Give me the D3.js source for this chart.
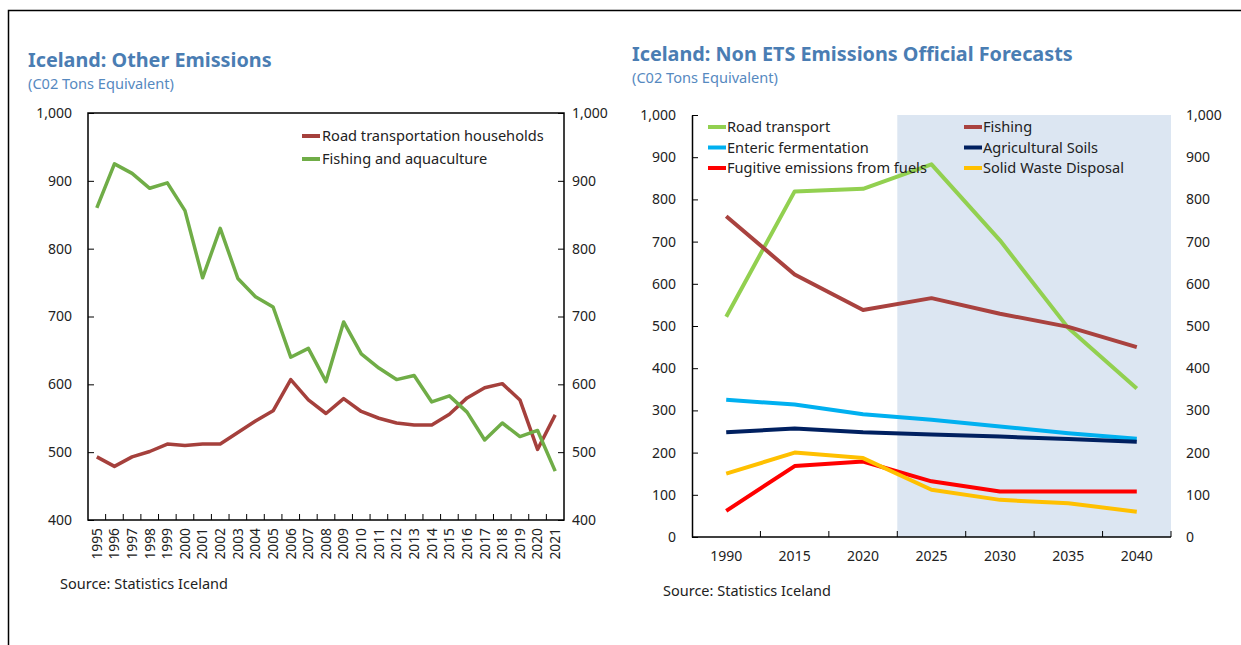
<!DOCTYPE html>
<html>
<head>
<meta charset="utf-8">
<script src="https://cdn.jsdelivr.net/npm/d3@7"></script>
<style>
  body { margin: 0; background: #fff; }
  svg { display: block; font-family: "Noto Sans", sans-serif; }
  .tick text { fill: #222; }
</style>
</head>
<body>
<script>
// left chart data
const yearsLeft = ['1995','1996','1997','1998','1999','2000','2001','2002','2003','2004','2005','2006','2007','2008','2009','2010','2011','2012','2013','2014','2015','2016','2017','2018','2019','2020','2021'];
const roadHouseholds = [493,479,493,501,512,510,512,512,529,546,561,607,577,557,579,560,550,543,540,540,556,580,595,601,577,504,555];
const fishingAqua = [860,925,911,889,897,856,757,830,756,729,714,640,653,604,692,645,624,607,613,574,583,559,518,543,523,532,472];
const leftTicks = [400,500,600,700,800,900,1000];

// right chart data
const yearsRight = ['1990','2015','2020','2025','2030','2035','2040'];
const roadTransport = [522,819,825,883,703,495,352];
const fishing = [760,622,538,566,529,498,450];
const enteric = [325,314,291,278,262,246,233];
const agriSoils = [248,257,248,243,238,232,226];
const fugitive = [62,168,179,132,108,108,108];
const solidWaste = [150,200,187,112,88,80,60];
const rightTicks = [0,100,200,300,400,500,600,700,800,900,1000];
const forecastStart = '2025';

const leftSeries = [
  { name: 'Road transportation households', values: roadHouseholds, color: '#a5403c' },
  { name: 'Fishing and aquaculture', values: fishingAqua, color: '#70ad47' },
];
const rightSeries = [
  { name: 'Road transport', values: roadTransport, color: '#92d050' },
  { name: 'Fishing', values: fishing, color: '#a9423f' },
  { name: 'Enteric fermentation', values: enteric, color: '#00b0f0' },
  { name: 'Agricultural Soils', values: agriSoils, color: '#002060' },
  { name: 'Fugitive emissions from fuels', values: fugitive, color: '#ff0000' },
  { name: 'Solid Waste Disposal', values: solidWaste, color: '#ffc000' },
];

const titleColor = '#4a7db3';
const fmt = d3.format(',');

const svg = d3.select('body').append('svg')
  .attr('width', 1241)
  .attr('height', 645);

// outer frame (runs off the page right and bottom)
svg.append('path')
  .attr('d', 'M8.5,645 V10.5 H1241')
  .attr('fill', 'none')
  .attr('stroke', '#000')
  .attr('stroke-width', 1.5);

const addTitle = (x, y1, y2, title) => {
  svg.append('text').attr('x', x).attr('y', y1)
    .attr('fill', titleColor).attr('font-weight', 'bold').attr('font-size', 19.8)
    .text(title);
  svg.append('text').attr('x', x).attr('y', y2)
    .attr('fill', '#5689bf').attr('font-size', 14.6)
    .text('(C02 Tons Equivalent)');
};

// ---------- left chart ----------
const L = { left: 88, right: 564, top: 113, bottom: 520 };
addTitle(28, 67, 89, 'Iceland: Other Emissions');

const xL = d3.scaleBand().domain(yearsLeft).range([L.left, L.right]);
const yL = d3.scaleLinear().domain([400, 1000]).range([L.bottom, L.top]);

const gL = svg.append('g');

gL.append('g')
  .attr('transform', `translate(${L.left},0)`)
  .call(d3.axisLeft(yL).tickValues(leftTicks).tickFormat(fmt).tickSizeInner(-6).tickSizeOuter(0).tickPadding(16))
  .call(g => g.select('.domain').remove())
  .call(g => g.selectAll('text').attr('font-size', 14).attr('font-family', 'Noto Sans'));

gL.append('g')
  .attr('transform', `translate(${L.right},0)`)
  .call(d3.axisRight(yL).tickValues(leftTicks).tickFormat(fmt).tickSizeInner(-6).tickSizeOuter(0).tickPadding(8))
  .call(g => g.select('.domain').remove())
  .call(g => g.selectAll('text').attr('font-size', 14).attr('font-family', 'Noto Sans'));

// category boundary ticks
gL.append('g').selectAll('line')
  .data(yearsLeft.slice(1))
  .enter().append('line')
  .attr('x1', d => xL(d)).attr('x2', d => xL(d))
  .attr('y1', L.bottom).attr('y2', L.bottom - 6)
  .attr('stroke', '#000');

gL.append('g').selectAll('text')
  .data(yearsLeft)
  .enter().append('text')
  .attr('transform', d => `translate(${xL(d) + xL.bandwidth() / 2},528) rotate(-90)`)
  .attr('text-anchor', 'end')
  .attr('dy', '0.35em')
  .attr('font-size', 13.8)
  .attr('fill', '#222')
  .text(d => d);

const lineL = d3.line()
  .x((d, i) => xL(yearsLeft[i]) + xL.bandwidth() / 2)
  .y(d => yL(d));

gL.append('g').selectAll('path')
  .data(leftSeries)
  .enter().append('path')
  .attr('d', d => lineL(d.values))
  .attr('fill', 'none')
  .attr('stroke', d => d.color)
  .attr('stroke-width', 3.5)
  .attr('stroke-linejoin', 'round');

gL.append('rect')
  .attr('x', L.left).attr('y', L.top)
  .attr('width', L.right - L.left).attr('height', L.bottom - L.top)
  .attr('fill', 'none').attr('stroke', '#000').attr('stroke-width', 1.5);

// legend
const legL = gL.append('g').selectAll('g')
  .data(leftSeries)
  .enter().append('g')
  .attr('transform', (d, i) => `translate(302,${136 + i * 23})`);
legL.append('line').attr('x1', 0).attr('x2', 18)
  .attr('stroke', d => d.color).attr('stroke-width', 4);
legL.append('text').attr('x', 20).attr('dy', '0.35em')
  .attr('font-size', 14.6).attr('fill', '#222')
  .text(d => d.name);

svg.append('text').attr('x', 60).attr('y', 589)
  .attr('font-size', 14.5).attr('fill', '#222')
  .text('Source: Statistics Iceland');

// ---------- right chart ----------
const R = { left: 692, right: 1171, top: 115, bottom: 537 };
addTitle(632, 61, 83, 'Iceland: Non ETS Emissions Official Forecasts');

const xR = d3.scaleBand().domain(yearsRight).range([R.left, R.right]);
const yR = d3.scaleLinear().domain([0, 1000]).range([R.bottom, R.top]);

const gR = svg.append('g');

// forecast shading
gR.append('rect')
  .attr('x', xR(forecastStart)).attr('y', R.top)
  .attr('width', R.right - xR(forecastStart)).attr('height', R.bottom - R.top)
  .attr('fill', '#dce6f2');

gR.append('g')
  .attr('transform', `translate(${R.left},0)`)
  .call(d3.axisLeft(yR).tickValues(rightTicks).tickFormat(fmt).tickSizeInner(-6).tickSizeOuter(0).tickPadding(16))
  .call(g => g.select('.domain').attr('stroke-width', 1.5))
  .call(g => g.selectAll('text').attr('font-size', 14).attr('font-family', 'Noto Sans'));

gR.append('g')
  .attr('transform', `translate(${R.right},0)`)
  .call(d3.axisRight(yR).tickValues(rightTicks).tickFormat(fmt).tickSize(0).tickPadding(15))
  .call(g => g.select('.domain').remove())
  .call(g => g.selectAll('text').attr('font-size', 14).attr('font-family', 'Noto Sans'));

gR.append('line')
  .attr('x1', R.left).attr('x2', R.right)
  .attr('y1', R.bottom).attr('y2', R.bottom)
  .attr('stroke', '#000').attr('stroke-width', 1.5);

gR.append('g').selectAll('line')
  .data(yearsRight.slice(1).concat(['end']))
  .enter().append('line')
  .attr('x1', d => d === 'end' ? R.right : xR(d))
  .attr('x2', d => d === 'end' ? R.right : xR(d))
  .attr('y1', R.bottom).attr('y2', R.bottom - 6)
  .attr('stroke', '#000');

gR.append('g').selectAll('text')
  .data(yearsRight)
  .enter().append('text')
  .attr('x', d => xR(d) + xR.bandwidth() / 2)
  .attr('y', 556)
  .attr('dy', '0.35em')
  .attr('text-anchor', 'middle')
  .attr('font-size', 14)
  .attr('fill', '#222')
  .text(d => d);

const lineR = d3.line()
  .x((d, i) => xR(yearsRight[i]) + xR.bandwidth() / 2)
  .y(d => yR(d));

gR.append('g').selectAll('path')
  .data(rightSeries)
  .enter().append('path')
  .attr('d', d => lineR(d.values))
  .attr('fill', 'none')
  .attr('stroke', d => d.color)
  .attr('stroke-width', 4)
  .attr('stroke-linejoin', 'round');

// legend, two columns
const legR = gR.append('g').selectAll('g')
  .data(rightSeries)
  .enter().append('g')
  .attr('transform', (d, i) => `translate(${i % 2 ? 964 : 708},${127 + Math.floor(i / 2) * 20.5})`);
legR.append('line').attr('x1', 0).attr('x2', 18)
  .attr('stroke', d => d.color).attr('stroke-width', 4);
legR.append('text').attr('x', 19).attr('dy', '0.35em')
  .attr('font-size', 14.6).attr('fill', '#222')
  .text(d => d.name);

svg.append('text').attr('x', 663).attr('y', 596)
  .attr('font-size', 14.5).attr('fill', '#222')
  .text('Source: Statistics Iceland');
</script>
</body>
</html>
